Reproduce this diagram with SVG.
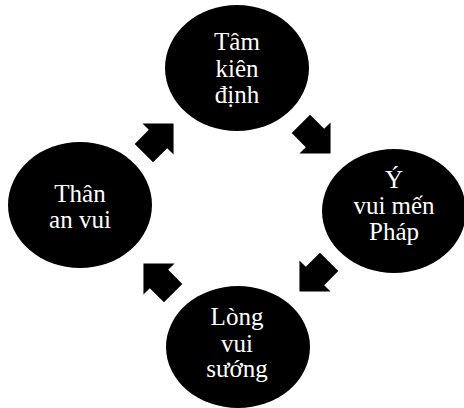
<svg xmlns="http://www.w3.org/2000/svg" xmlns:xlink="http://www.w3.org/1999/xlink" width="464" height="408" viewBox="0 0 464 408">
  <defs>
    <style>
      .node { fill: #000000; }
      .label { fill: #ffffff; font-family: "Liberation Serif", "Times New Roman", serif; font-size: 25px; text-anchor: middle; }
      .arrow { fill: #000000; }
    </style>
    <!-- block arrow pointing along +x, centred on the base of its head -->
    <path id="blockArrow" d="M -20 -13 L 0 -13 L 0 -22 L 22 0 L 0 22 L 0 13 L -20 13 Z"/>
  </defs>
  <rect width="464" height="408" fill="#ffffff"/>

  <g id="connectors" class="arrow">
    <use xlink:href="#blockArrow" transform="translate(158 139) rotate(-45)"/>
    <use xlink:href="#blockArrow" transform="translate(315 138) rotate(45)"/>
    <use xlink:href="#blockArrow" transform="translate(315 276) rotate(135)"/>
    <use xlink:href="#blockArrow" transform="translate(159 279) rotate(225)"/>
  </g>

  <g id="node-tam-kien-dinh">
    <ellipse class="node" cx="237" cy="68" rx="72" ry="63"/>
    <text class="label" x="237" y="50">Tâm</text>
    <text class="label" x="237" y="77">kiên</text>
    <text class="label" x="237" y="103">định</text>
  </g>

  <g id="node-y-vui-men-phap">
    <ellipse class="node" cx="394" cy="211" rx="72" ry="62"/>
    <text class="label" x="394" y="188">Ý</text>
    <text class="label" x="394" y="214">vui mến</text>
    <text class="label" x="394" y="240">Pháp</text>
  </g>

  <g id="node-long-vui-suong">
    <ellipse class="node" cx="238" cy="347" rx="72" ry="61"/>
    <text class="label" x="237" y="325">Lòng</text>
    <text class="label" x="237" y="352">vui</text>
    <text class="label" x="237" y="377">sướng</text>
  </g>

  <g id="node-than-an-vui">
    <ellipse class="node" cx="80" cy="205" rx="72" ry="63"/>
    <text class="label" x="80" y="202">Thân</text>
    <text class="label" x="80" y="228">an vui</text>
  </g>
</svg>
